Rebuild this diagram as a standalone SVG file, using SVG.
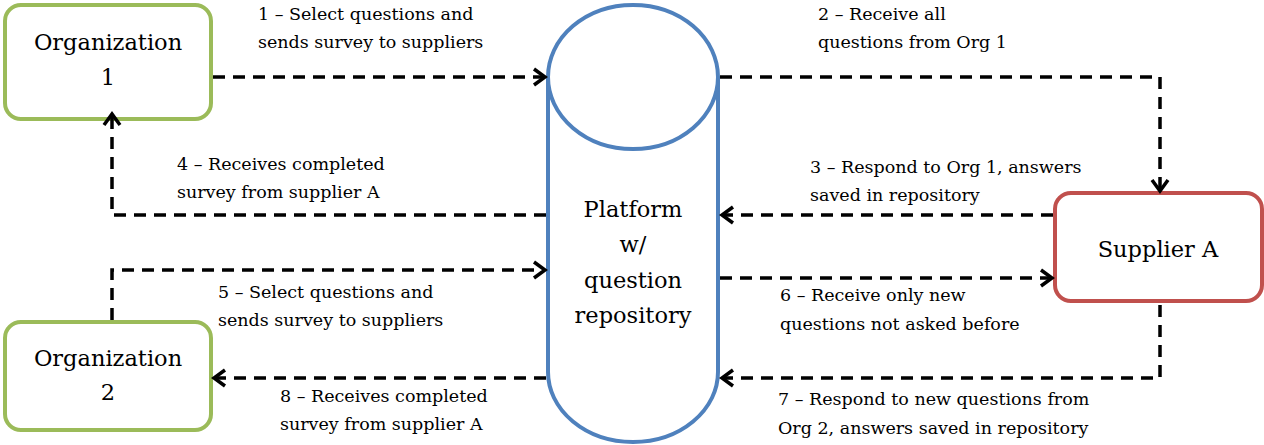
<svg xmlns="http://www.w3.org/2000/svg" width="1264" height="445" viewBox="0 0 1264 445">
<defs>
<style>
.org{fill:#fff;stroke:#9BBB59;stroke-width:4}
.sup{fill:#fff;stroke:#C0504D;stroke-width:4}
.cyl{fill:#fff;stroke:#4F81BD;stroke-width:4}
.node{font-family:"DejaVu Serif",serif;font-size:22.5px;fill:#000;text-anchor:middle}
.lbl{font-family:"DejaVu Serif",serif;font-size:17.5px;fill:#000}
.conn{fill:none;stroke:#000;stroke-width:3.5;stroke-dasharray:12 8}
</style>
<marker id="arr" markerUnits="userSpaceOnUse" markerWidth="20" markerHeight="24" refX="13" refY="10" orient="auto" viewBox="0 0 20 20">
<path d="M2,2 L13,10 L2,18" fill="none" stroke="#000" stroke-width="3.5"/>
</marker>
</defs>

<g id="org1">
<rect class="org" x="5" y="5" width="206" height="114" rx="16"/>
<text class="node" x="108" y="50">Organization</text>
<text class="node" x="108" y="85">1</text>
</g>

<g id="org2">
<rect class="org" x="5" y="322" width="206" height="108" rx="16"/>
<text class="node" x="108" y="366">Organization</text>
<text class="node" x="108" y="400">2</text>
</g>

<g id="supplier">
<rect class="sup" x="1055" y="193" width="207" height="108" rx="16"/>
<text class="node" x="1158" y="257">Supplier A</text>
</g>

<g id="platform">
<path class="cyl" d="M548,77 L548,372 A85,70 0 0 0 718,372 L718,77"/>
<ellipse class="cyl" cx="633" cy="77" rx="85" ry="72"/>
<text class="node" x="633" y="217">Platform</text>
<text class="node" x="633" y="252">w/</text>
<text class="node" x="633" y="288">question</text>
<text class="node" x="633" y="323">repository</text>
</g>

<g id="connectors">
<path class="conn" d="M213,77 L545,77" marker-end="url(#arr)"/>
<path class="conn" d="M720,77 L1160,77 L1160,191" marker-end="url(#arr)"/>
<path class="conn" d="M1053,215 L722,215" marker-end="url(#arr)"/>
<path class="conn" d="M546,215 L112,215 L112,114" marker-end="url(#arr)"/>
<path class="conn" d="M112,320 L112,270 L545,270" marker-end="url(#arr)"/>
<path class="conn" d="M720,278 L1052,278" marker-end="url(#arr)"/>
<path class="conn" d="M1160,305 L1160,378 L722,378" marker-end="url(#arr)"/>
<path class="conn" d="M546,378 L214,378" marker-end="url(#arr)"/>
</g>

<g id="labels">
<text class="lbl" x="258" y="20">1 – Select questions and</text>
<text class="lbl" x="258" y="48">sends survey to suppliers</text>
<text class="lbl" x="818" y="20">2 – Receive all</text>
<text class="lbl" x="818" y="48">questions from Org 1</text>
<text class="lbl" x="810" y="173">3 – Respond to Org 1, answers</text>
<text class="lbl" x="810" y="201">saved in repository</text>
<text class="lbl" x="177" y="170">4 – Receives completed</text>
<text class="lbl" x="177" y="198">survey from supplier A</text>
<text class="lbl" x="218" y="298">5 – Select questions and</text>
<text class="lbl" x="218" y="326">sends survey to suppliers</text>
<text class="lbl" x="780" y="301">6 – Receive only new</text>
<text class="lbl" x="780" y="330">questions not asked before</text>
<text class="lbl" x="778" y="405">7 – Respond to new questions from</text>
<text class="lbl" x="778" y="434">Org 2, answers saved in repository</text>
<text class="lbl" x="280" y="402">8 – Receives completed</text>
<text class="lbl" x="280" y="430">survey from supplier A</text>
</g>
</svg>
